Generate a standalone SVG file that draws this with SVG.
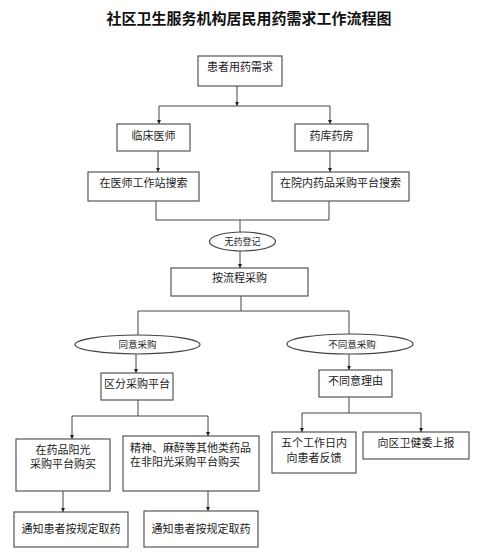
<svg xmlns="http://www.w3.org/2000/svg" width="500" height="554" viewBox="0 0 500 554">
<style>
.box{fill:#fff;stroke:#555;stroke-width:1.2}
.ell{fill:#fff;stroke:#444;stroke-width:1.2}
.t{font-family:"Liberation Sans","Noto Sans CJK SC",sans-serif;font-size:11px;fill:#222;text-anchor:middle}
.s{font-size:9.5px}
.ln{fill:none;stroke:#444;stroke-width:1}
.ttl{font-family:"Liberation Sans","Noto Sans CJK SC",sans-serif;font-size:15px;font-weight:bold;fill:#111;text-anchor:middle}
</style>
<defs>
<marker id="ah" viewBox="0 0 6 6" refX="6" refY="3" markerWidth="4" markerHeight="4" orient="auto" markerUnits="userSpaceOnUse">
<path d="M0,0 L6,3 L0,6 z" fill="#222"/>
</marker>
</defs>
<rect width="500" height="554" fill="#fff"/>
<text class="ttl" x="249" y="24">社区卫生服务机构居民用药需求工作流程图</text>
<g id="connectors">
<path class="ln" d="M237,86 V106" marker-end="url(#ah)"/>
<path class="ln" d="M159,106 H330"/>
<path class="ln" d="M159,106 V124" marker-end="url(#ah)"/>
<path class="ln" d="M330,106 V124" marker-end="url(#ah)"/>
<path class="ln" d="M158,151 V172" marker-end="url(#ah)"/>
<path class="ln" d="M330,151 V172" marker-end="url(#ah)"/>
<path class="ln" d="M156,201 V220 H329 V201"/>
<path class="ln" d="M240,220 V232"/>
<path class="ln" d="M240,251 V268" marker-end="url(#ah)"/>
<path class="ln" d="M241,296 V311"/>
<path class="ln" d="M138,335 V311 H349 V334"/>
<path class="ln" d="M136,354 V373" marker-end="url(#ah)"/>
<path class="ln" d="M349,354 V370" marker-end="url(#ah)"/>
<path class="ln" d="M138,400 V416"/>
<path class="ln" d="M72,416 H208"/>
<path class="ln" d="M72,416 V439" marker-end="url(#ah)"/>
<path class="ln" d="M208,416 V436" marker-end="url(#ah)"/>
<path class="ln" d="M63,491 V512" marker-end="url(#ah)"/>
<path class="ln" d="M208,491 V511" marker-end="url(#ah)"/>
<path class="ln" d="M349,397 V413"/>
<path class="ln" d="M302,413 H421"/>
<path class="ln" d="M302,413 V432" marker-end="url(#ah)"/>
<path class="ln" d="M421,413 V432" marker-end="url(#ah)"/>
</g>
<g id="n1"><rect class="box" x="198" y="56" width="84" height="30"/><text class="t" x="240" y="71">患者用药需求</text></g>
<g id="n2"><rect class="box" x="117" y="124" width="73" height="27"/><text class="t" x="153.5" y="140">临床医师</text></g>
<g id="n3"><rect class="box" x="295" y="124" width="73" height="27"/><text class="t" x="331.5" y="140">药库药房</text></g>
<g id="n4"><rect class="box" x="88" y="172" width="111" height="29"/><text class="t" x="143.5" y="187">在医师工作站搜索</text></g>
<g id="n5"><rect class="box" x="272" y="172" width="137" height="29"/><text class="t" x="340.5" y="187">在院内药品采购平台搜索</text></g>
<g id="n6"><ellipse class="ell" cx="242.5" cy="241.5" rx="33" ry="9.5"/><text class="t" x="242.5" y="245" style="font-size:9px">无药登记</text></g>
<g id="n7"><rect class="box" x="171" y="268" width="137" height="28"/><text class="t" x="239.5" y="282">按流程采购</text></g>
<g id="n8"><ellipse class="ell" cx="137.5" cy="344.5" rx="62.5" ry="9.5"/><text class="t s" x="137.5" y="348">同意采购</text></g>
<g id="n9"><ellipse class="ell" cx="350" cy="344" rx="63" ry="10"/><text class="t s" x="352" y="348">不同意采购</text></g>
<g id="n10"><rect class="box" x="101" y="373" width="72" height="27"/><text class="t" x="137" y="388">区分采购平台</text></g>
<g id="n11"><rect class="box" x="319" y="370" width="73" height="27"/><text class="t" x="355.5" y="385">不同意理由</text></g>
<g id="n12"><rect class="box" x="16" y="439" width="94" height="52"/><text class="t" x="63" y="454">在药品阳光</text><text class="t" x="63" y="468">采购平台购买</text></g>
<g id="n13"><rect class="box" x="123" y="436" width="136" height="55"/><text class="t" x="130" y="452" style="text-anchor:start">精神、麻醉等其他类药品</text><text class="t" x="130" y="466" style="text-anchor:start">在非阳光采购平台购买</text></g>
<g id="n14"><rect class="box" x="14" y="512" width="114" height="35"/><text class="t" x="71" y="533">通知患者按规定取药</text></g>
<g id="n15"><rect class="box" x="144" y="511" width="114" height="36"/><text class="t" x="201" y="533">通知患者按规定取药</text></g>
<g id="n16"><rect class="box" x="272" y="432" width="84" height="41"/><text class="t" x="314" y="447">五个工作日内</text><text class="t" x="314" y="462">向患者反馈</text></g>
<g id="n17"><rect class="box" x="363" y="432" width="106" height="27"/><text class="t" x="416" y="447">向区卫健委上报</text></g>
</svg>
